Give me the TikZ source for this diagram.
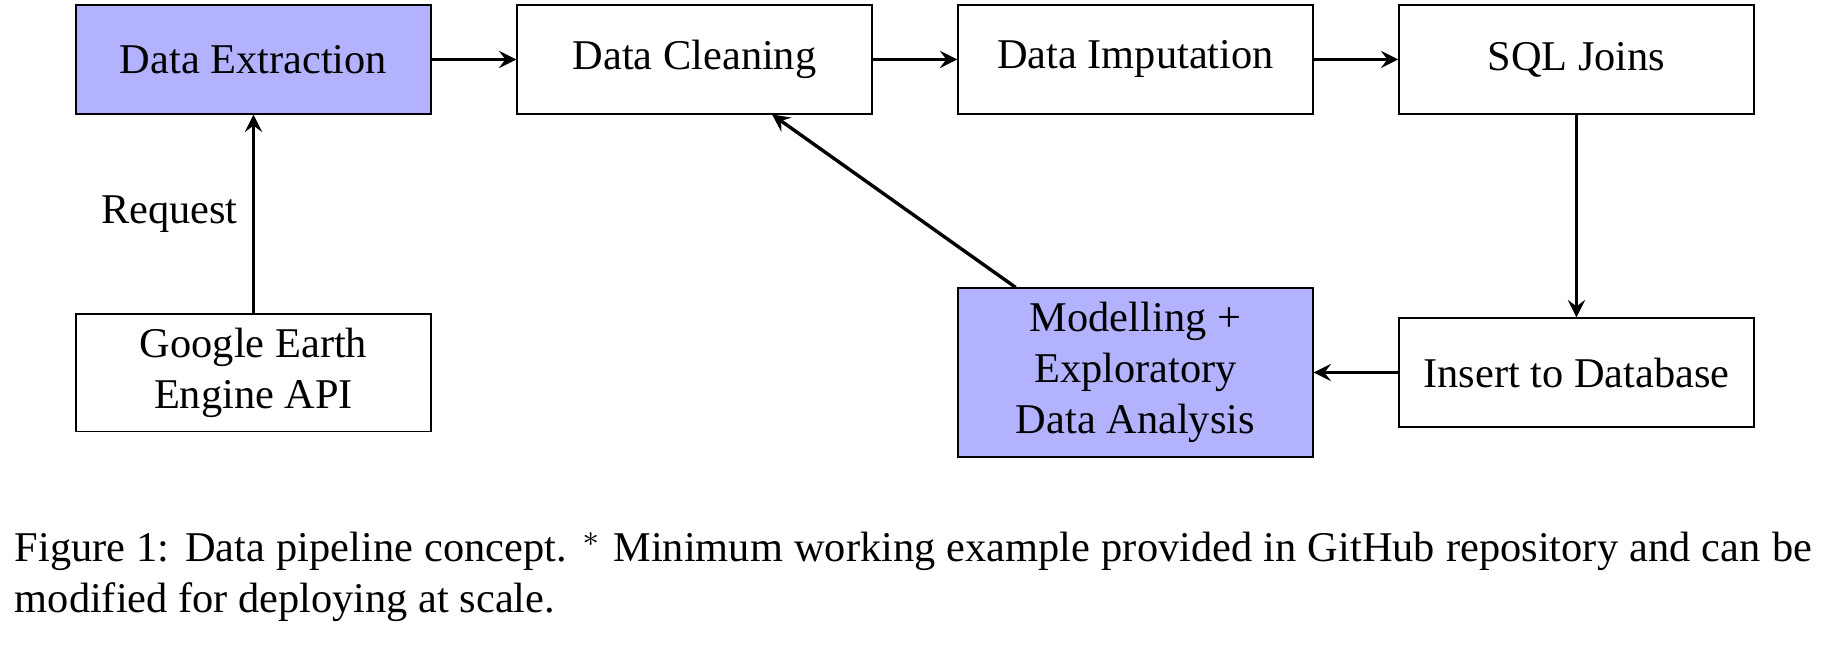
\documentclass[tikz,border=0pt]{standalone}
\usepackage{fontspec}
\setmainfont{Liberation Serif}
\tikzset{
	stage/.style={draw=black, minimum width=2.94cm, minimum height=0.9cm, align=center},
	keystage/.style={stage, fill=blue!30!white},
	flow/.style={-stealth, thick}
}
\begin{document}
\begin{tikzpicture}
		\useasboundingbox (-2.102,0.493) rectangle (13.197,-4.913);
		
		\node[keystage] (extract) at (0,0) {Data Extraction};
		\node[stage] (clean) at (3.657,0) {Data Cleaning};
		\node[stage] (impute) at (7.313,0) {Data Imputation};
		\node[stage] (joins) at (10.970,0) {SQL Joins};
		
		\node[stage] (gee) at (0,-2.596) {Google Earth\\Engine API};
		\node[keystage] (model) at (7.313,-2.596) {Modelling +\\Exploratory\\Data Analysis};
		\node[stage] (insert) at (10.970,-2.596) {Insert to Database};
		
		\draw[flow] (extract) -- (clean);
		\draw[flow] (clean) -- (impute);
		\draw[flow] (impute) -- (joins);
		\draw[flow] (joins) -- (insert);
		\draw[flow] (insert) -- (model);
		\draw[flow] (model) -- (clean);
		\draw[flow] (gee) -- node[midway, left] {Request} (extract);
		
		\node[anchor=base west, text width=424pt, align=justify, inner sep=0pt] (caption) at (-1.986,-4.167)
			{Figure 1: Data pipeline concept. $^*$ Minimum working example provided in GitHub repository and can be\linebreak modified for deploying at scale.};
\end{tikzpicture}
\end{document}
